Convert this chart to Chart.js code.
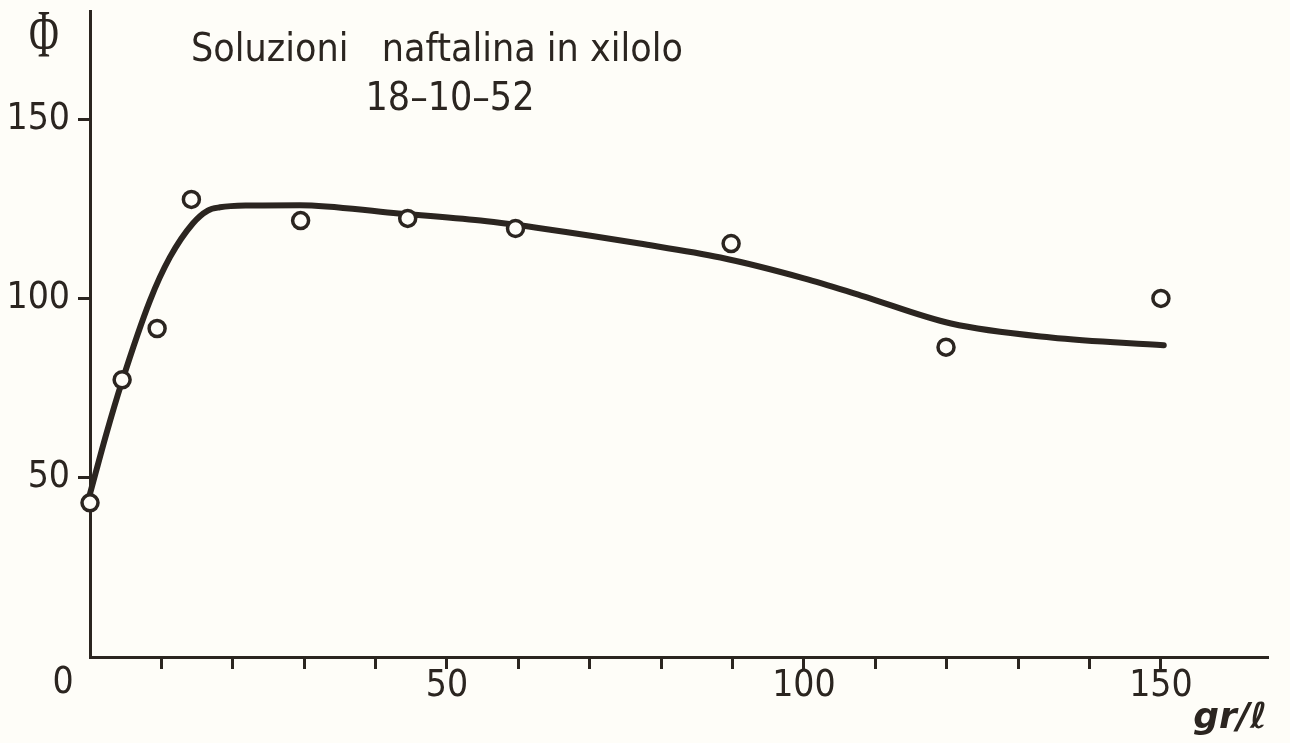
<!DOCTYPE html>
<html>
<head>
<meta charset="utf-8">
<script src="https://cdn.jsdelivr.net/npm/chart.js@4/dist/chart.umd.min.js"></script>
<style>
  html, body { margin: 0; padding: 0; background: #fefdf8; }
  #wrap { width: 1290px; height: 743px; }
</style>
</head>
<body>
<div id="wrap"><canvas id="chart" width="1290" height="743"></canvas></div>
<script>
// Measured points (concentration gr/l, Phi)
const pointX = [0, 4.5, 9.4, 14.2, 29.5, 44.5, 59.6, 89.8, 119.9, 150];
const pointY = [43, 77.3, 91.6, 127.6, 121.7, 122.3, 119.5, 115.3, 86.4, 100];

// Hand-drawn curve
const curveX = [0, 2.3, 4.4, 8.4, 11.2, 14.4, 16.5, 18.2, 22, 29.4, 42.5, 54.7, 64, 77, 88.3, 100, 108, 120.6, 134.6, 150.4];
const curveY = [45.5, 62.3, 76.3, 99.4, 111.5, 120.9, 124.5, 125.4, 125.9, 126, 123.8, 121.7, 119.3, 115.3, 111.4, 105.6, 100.8, 93, 89.1, 86.9];

const xTicks = [10, 20, 30, 40, 50, 60, 70, 80, 90, 100, 110, 120, 130, 140, 150];
const xLabels = [50, 100, 150];
const yTicks = [50, 100, 150];

const titleLine1 = 'Soluzioni   naftalina in xilolo';
const titleLine2 = '18–10–52';
const yTitle = 'Φ';
const xTitle = 'gr/ℓ';

const INK = '#2b2520';
const PAPER = '#fefdf8';
const FONT = '"DejaVu Sans Condensed", "Liberation Sans Narrow", "DejaVu Sans", sans-serif';

const toXY = (xs, ys) => xs.map((x, i) => ({ x: x, y: ys[i] }));

// extra text drawn on top of the chart
const annotations = {
  id: 'annotations',
  afterDraw(chart) {
    const ctx = chart.ctx;
    const ys = chart.scales.y;
    ctx.save();
    ctx.fillStyle = INK;
    ctx.textBaseline = 'middle';
    ctx.textAlign = 'center';
    ctx.font = '39px ' + FONT;
    ctx.fillText(titleLine1, 437, 51);
    ctx.fillText(titleLine2, 450, 100);
    // origin label sits left of the axis
    ctx.font = '37px ' + FONT;
    ctx.fillText('0', 63, ys.getPixelForValue(0) + 26);
    ctx.font = 'italic bold 36px "DejaVu Sans", sans-serif';
    ctx.textAlign = 'right';
    ctx.fillText(xTitle, 1267, 719);
    // tall narrow Phi
    ctx.save();
    ctx.translate(44, 38);
    ctx.scale(0.6, 1);
    ctx.textAlign = 'center';
    ctx.font = '68px "Liberation Serif", "DejaVu Serif", serif';
    ctx.fillText(yTitle, 0, 0);
    ctx.restore();
    ctx.restore();
  }
};

new Chart(document.getElementById('chart'), {
  type: 'scatter',
  data: {
    datasets: [{
      label: 'curve',
      data: toXY(curveX, curveY),
      showLine: true,
      borderColor: INK,
      borderWidth: 6,
      borderCapStyle: 'round',
      pointRadius: 0,
      cubicInterpolationMode: 'monotone',
      order: 2
    }, {
      label: 'misure',
      data: toXY(pointX, pointY),
      showLine: false,
      pointStyle: 'circle',
      pointRadius: 8,
      pointBorderWidth: 3.5,
      pointBorderColor: INK,
      pointBackgroundColor: PAPER,
      order: 1
    }]
  },
  options: {
    responsive: false,
    animation: false,
    clip: false,
    layout: { padding: { top: 11, right: 22, left: 0, bottom: 0 } },
    plugins: {
      legend: { display: false },
      tooltip: { enabled: false }
    },
    scales: {
      x: {
        type: 'linear',
        min: 0,
        max: 165,
        afterBuildTicks: (scale) => { scale.ticks = xTicks.map(v => ({ value: v })); },
        afterFit: (scale) => {
          scale.height = 86;
          scale.paddingLeft = 0;
          scale.paddingRight = 0;
        },
        ticks: {
          color: INK,
          font: { family: FONT, size: 37 },
          padding: -5,
          maxRotation: 0,
          autoSkip: false,
          callback: (v) => xLabels.includes(v) ? String(v) : ''
        },
        grid: {
          drawOnChartArea: false,
          drawTicks: true,
          tickLength: 12,
          tickWidth: 3,
          tickColor: INK
        },
        border: { display: true, color: INK, width: 3 }
      },
      y: {
        type: 'linear',
        min: 0,
        max: 180,
        afterBuildTicks: (scale) => { scale.ticks = yTicks.map(v => ({ value: v })); },
        afterFit: (scale) => {
          scale.width = 90;
          scale.paddingTop = 0;
          scale.paddingBottom = 0;
        },
        ticks: {
          color: INK,
          font: { family: FONT, size: 37 },
          padding: 8,
          callback: (v) => String(v)
        },
        grid: {
          drawOnChartArea: false,
          drawTicks: true,
          tickLength: 12,
          tickWidth: 3,
          tickColor: INK
        },
        border: { display: true, color: INK, width: 3 }
      }
    }
  },
  plugins: [annotations, {
    id: 'paper',
    beforeDraw(chart) {
      const ctx = chart.ctx;
      ctx.save();
      ctx.fillStyle = PAPER;
      ctx.fillRect(0, 0, chart.width, chart.height);
      ctx.restore();
    }
  }]
});
</script>
</body>
</html>
